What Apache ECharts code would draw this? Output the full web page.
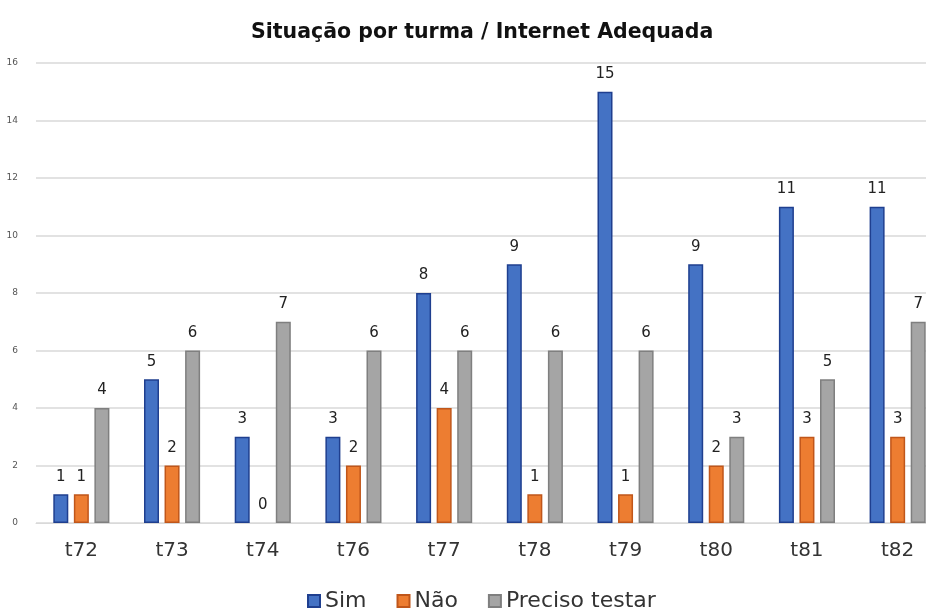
<!DOCTYPE html>
<html>
<head>
<meta charset="utf-8">
<script src="https://cdn.jsdelivr.net/npm/echarts@6/dist/echarts.min.js"></script>
<style>
  html, body { margin: 0; padding: 0; background: #fff; }
  #chart { width: 926px; height: 613px; }
</style>
</head>
<body>
<div id="chart"></div>
<script>
// turmas e valores
const turmas = ['t72', 't73', 't74', 't76', 't77', 't78', 't79', 't80', 't81', 't82']
const sim = [1, 5, 3, 3, 8, 9, 15, 9, 11, 11]
const nao = [1, 2, 0, 2, 4, 1, 1, 2, 3, 3]
const precisoTestar = [4, 6, 7, 6, 6, 6, 6, 3, 5, 7]

const font = '"DejaVu Sans", sans-serif'

function serie(name, data, color, border) {
  return {
    name: name,
    type: 'bar',
    // barra de valor 0 sem contorno
    data: data.map(v => (v === 0 ? { value: v, itemStyle: { borderWidth: 0 } } : v)),
    barWidth: 15,
    barGap: '37%',
    itemStyle: { color: color, borderColor: border, borderWidth: 1.5 },
    label: {
      show: true,
      position: 'top',
      distance: 10,
      color: '#222',
      fontSize: 15,
      fontFamily: font
    }
  }
}

const chart = echarts.init(document.getElementById('chart'))
chart.setOption({
  animation: false,
  backgroundColor: '#fff',
  title: {
    text: 'Situação por turma / Internet Adequada',
    left: 246,
    top: 17,
    textStyle: { fontSize: 20.5, fontWeight: 'bold', color: '#111', fontFamily: font }
  },
  legend: {
    top: 585,
    left: 302,
    itemWidth: 12,
    itemHeight: 12,
    itemGap: 30,
    icon: 'rect',
    textStyle: { fontSize: 22, color: '#333', fontFamily: font },
    data: ['Sim', 'Não', 'Preciso testar']
  },
  grid: { left: 36, top: 63, width: 907, height: 460, outerBoundsMode: 'none' },
  xAxis: {
    type: 'category',
    data: turmas,
    axisTick: { show: false },
    axisLine: { show: true, lineStyle: { color: '#d9d9d9' } },
    axisLabel: { fontSize: 20, color: '#333', margin: 18, fontFamily: font }
  },
  yAxis: {
    type: 'value',
    min: 0,
    max: 16,
    interval: 2,
    axisLabel: { fontSize: 9, color: '#555', margin: 18, fontFamily: font },
    splitLine: { lineStyle: { color: '#d9d9d9', width: 1.5 } }
  },
  series: [
    serie('Sim', sim, '#4472C4', '#1F3F8F'),
    serie('Não', nao, '#ED7D31', '#C0561A'),
    serie('Preciso testar', precisoTestar, '#A5A5A5', '#7F7F7F')
  ]
})
</script>
</body>
</html>
